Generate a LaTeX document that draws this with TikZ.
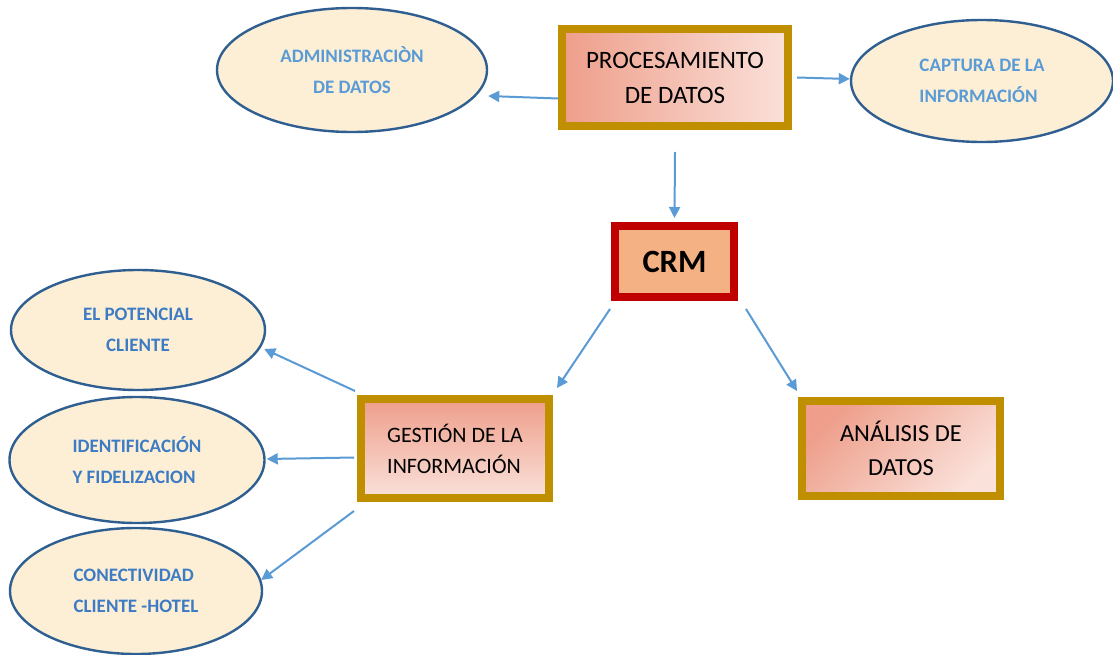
\documentclass[tikz,border=0pt]{standalone}
\usepackage{fontspec}
\setmainfont{Carlito}
\usetikzlibrary{shapes.geometric,arrows.meta,calc}
\definecolor{gold}{HTML}{BF8F00}
\definecolor{crmred}{HTML}{C00000}
\definecolor{crmfill}{HTML}{F4B183}
\definecolor{salmonA}{HTML}{EE9E8A}
\definecolor{salmonB}{HTML}{FAE1DA}
\definecolor{cream}{HTML}{FCEFD6}
\definecolor{ellline}{HTML}{2F5F91}
\definecolor{txtblueA}{HTML}{5B9BD5}
\definecolor{txtblueB}{HTML}{3D7CC4}
\definecolor{arrowblue}{HTML}{5B9BD5}
\tikzset{
  oval/.style={ellipse, draw=ellline, line width=2.4pt, fill=cream, inner sep=0pt,
     font=\bfseries\fontsize{19}{31}\selectfont},
  goldbox/.style={rectangle, draw=gold, line width=8pt, inner sep=0pt},
  conn/.style={draw=arrowblue, line width=2pt, -{Triangle[length=11pt,width=11pt]}}
}
\begin{document}
\begin{tikzpicture}[x=1pt,y=-1pt]
\useasboundingbox (0,0) rectangle (1113,655);
\fill[white] (0,0) rectangle (1113,655);
% top row
\node[oval, text=txtblueA, minimum width=270pt, minimum height=124pt, align=center] (admin) at (352,70) {ADMINISTRACIÒN\\DE DATOS};
\node[goldbox, minimum width=226pt, minimum height=97pt, left color=salmonA, right color=salmonB,
      align=center, font=\fontsize{25}{35}\selectfont] (proc) at (675,77.5) {PROCESAMIENTO\\DE DATOS};
\node[oval, text=txtblueA, minimum width=262pt, minimum height=122pt, align=left] (cap) at (982,81) {CAPTURA DE LA\\INFORMACIÓN};
% CRM
\node[rectangle, draw=crmred, line width=8pt, fill=crmfill, inner sep=0pt, minimum width=119pt, minimum height=71pt,
      font=\bfseries\fontsize{32.5}{36}\selectfont] (crm) at (674.5,261.5) {CRM};
% second level
\node[goldbox, minimum width=188pt, minimum height=99pt, top color=salmonA, bottom color=salmonB,
      align=left, font=\fontsize{22}{31}\selectfont] (gest) at (455,448.5) {GESTIÓN DE LA\\INFORMACIÓN};
\node[goldbox, minimum width=198pt, minimum height=95pt, top color=salmonA, bottom color=salmonB, shading angle=45,
      align=center, font=\fontsize{24.5}{34}\selectfont] (ana) at (901,448.5) {ANÁLISIS DE\\DATOS};
% left ellipses
\node[oval, text=txtblueB, minimum width=254pt, minimum height=120pt, align=center] (pot) at (138,330) {EL POTENCIAL\\CLIENTE};
\node[oval, text=txtblueB, minimum width=255pt, minimum height=126pt, align=left] (ident) at (137,460) {IDENTIFICACIÓN\\Y FIDELIZACION};
\node[oval, text=txtblueB, minimum width=252pt, minimum height=126pt, align=left] (conec) at (136,591) {CONECTIVIDAD\\CLIENTE -HOTEL};
% connectors
\draw[conn] ([yshift=-21pt]proc.west) -- ([yshift=-26pt]admin.east);
\draw[conn] ([xshift=5pt]proc.east) -- ([yshift=2pt]cap.west);
\draw[conn] ([yshift=-22pt]proc.south) -- ([yshift=4pt]crm.north);
\draw[conn] ([shift={(-1pt,-8pt)}]crm.south west) -- ([shift={(4pt,7pt)}]gest.north east);
\draw[conn] ([shift={(8pt,-8pt)}]crm.south east) -- ([shift={(-1pt,6pt)}]ana.north west);
\draw[conn] ([shift={(-2pt,4pt)}]gest.north west) -- ([shift={(-2pt,-19pt)}]pot.east);
\draw[conn] ([shift={(-3pt,-9pt)}]gest.west) -- ([shift={(1pt,1pt)}]ident.east);
\draw[conn] ([shift={(-3pt,-9pt)}]gest.south west) -- ([shift={(-2pt,11pt)}]conec.east);
\end{tikzpicture}
\end{document}
